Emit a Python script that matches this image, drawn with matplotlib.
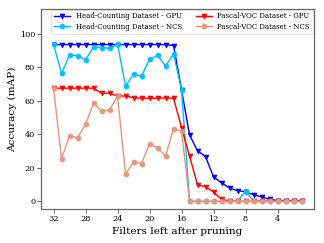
import numpy as np
import matplotlib
matplotlib.use("Agg")
import matplotlib.pyplot as plt

plt.rcParams["font.family"] = "DejaVu Serif"

filters = list(range(32, 0, -1))

head_gpu = [93.5, 93.5, 93.5, 93.5, 93.5, 93.5, 93.5, 93.5, 93.5, 93.5,
            93.5, 93.5, 93.5, 93.5, 93.5, 92.9, 66.4, 39.6, 30.2, 26.6,
            14.6, 11.1, 7.9, 6.4, 5.7, 3.9, 2.7, 1.2, 0.5, 0.5, 0.5, 0.5]
head_ncs = [93.7, 76.4, 87.3, 86.9, 84.5, 92.3, 91.7, 91.3, 93.7, 68.8,
            75.8, 74.8, 84.8, 87.0, 80.8, 87.9, 66.4, 0.0, 0.0, 0.0,
            0.0, 0.0, 0.0, 0.0, 6.1, 0.0, 0.0, 0.0, 0.0, 0.0, 0.0, 0.0]
voc_gpu = [67.5, 67.5, 67.5, 67.5, 67.5, 67.5, 64.5, 64.5, 62.8, 62.8,
           61.8, 61.5, 61.5, 61.5, 61.7, 61.5, 44.0, 27.0, 9.9, 8.7,
           5.6, 1.2, 0.3, 0.0, 0.0, 0.0, 0.0, 0.0, 0.0, 0.0, 0.0, 0.0]
voc_ncs = [67.5, 25.4, 39.0, 38.0, 45.9, 58.5, 53.9, 54.5, 62.9, 16.2,
           23.6, 22.5, 34.5, 31.8, 27.0, 43.3, 42.0, 0.0, 0.0, 0.0,
           0.0, 0.0, 0.0, 0.0, 0.0, 0.0, 0.0, 0.0, 0.0, 0.0, 0.0, 0.0]

fig, ax = plt.subplots(figsize=(6.4, 4.8), dpi=50.625)
fig.subplots_adjust(left=0.127, right=0.969, bottom=0.139, top=0.965)

ax.plot(filters, head_gpu, color="blue", marker="v", markersize=7,
        linewidth=2, label="Head-Counting Dataset - GPU")
ax.plot(filters, head_ncs, color="deepskyblue", marker="o", markersize=7,
        linewidth=2, label="Head-Counting Dataset - NCS")
ax.plot(filters, voc_gpu, color="red", marker="v", markersize=7,
        linewidth=2, label="Pascal-VOC Dataset - GPU")
ax.plot(filters, voc_ncs, color="darksalmon", marker="o", markersize=7,
        linewidth=2, label="Pascal-VOC Dataset - NCS")

ax.set_xticks([32, 28, 24, 20, 16, 12, 8, 4])
ax.invert_xaxis()
ax.set_ylim(top=115)
ax.set_yticks([0, 20, 40, 60, 80, 100])
ax.tick_params(labelsize=11.5, width=1.5, length=5, color="dimgray")
for s in ax.spines.values():
    s.set_color("dimgray")
    s.set_linewidth(1.8)
ax.set_xlabel("Filters left after pruning", fontsize=15, labelpad=5)
ax.set_ylabel("Accuracy (mAP)", fontsize=15)
ax.legend(loc="upper right", ncol=2, fontsize=10, borderaxespad=0.15,
          handlelength=2.3, columnspacing=1.9, labelspacing=0.35)

plt.savefig("out.png", dpi=50.625)
